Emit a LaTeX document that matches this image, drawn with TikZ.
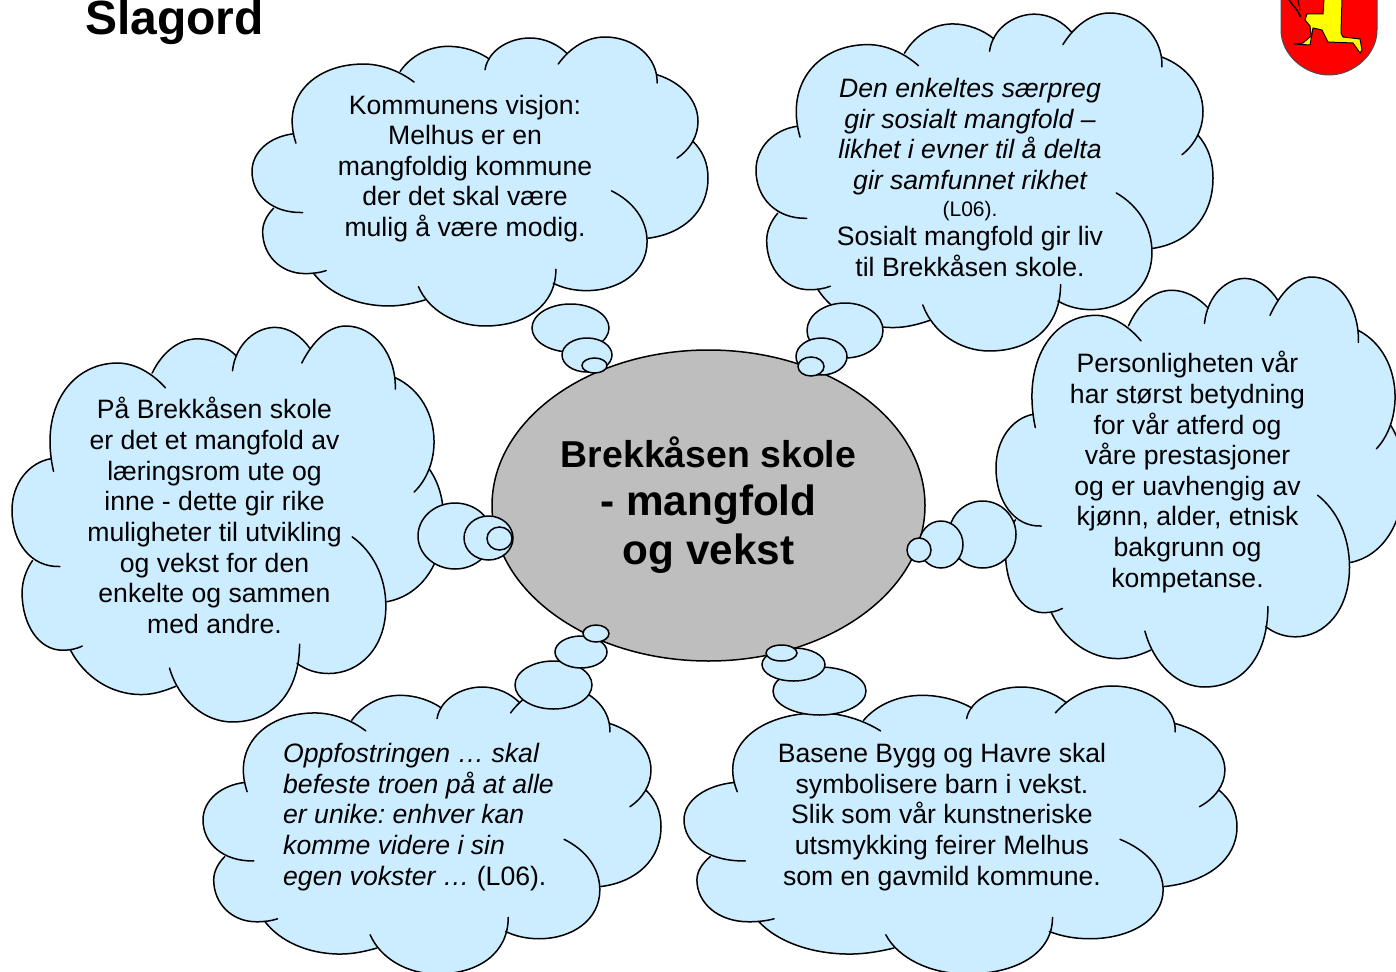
\documentclass[tikz,border=0pt]{standalone}
\usepackage{fontspec}
\setmainfont{Liberation Sans}
\usetikzlibrary{shapes.geometric}
\definecolor{cloudblue}{HTML}{CCECFF}
\definecolor{hubgray}{HTML}{BEBEBE}
\definecolor{shieldred}{HTML}{FF0000}
\definecolor{legyellow}{HTML}{FFFF00}
\tikzset{
  lobeline/.style={draw=black,line width=1.5pt,line cap=round},
  lobefill/.style={fill=cloudblue,draw=cloudblue,line width=.8pt},
  bubble/.style={draw=black,fill=cloudblue,line width=1.5pt},
  bodytext/.style={inner sep=0pt,align=center,text=black,font=\fontsize{26.6}{30.6}\selectfont\frenchspacing},
}
\newcommand{\lobefillcmd}[1]{\path[lobefill] #1;}
\newcommand{\lobestrokecmd}[1]{\path[lobeline] #1;}
\newcommand{\cloudlobes}{%
    \onelobe{(167,340) .. controls (120,200) and (225,103) .. (370,103) .. controls (425,103) and (480,125) .. (522,157)}
    \onelobe{(480,125) .. controls (515,75) and (570,50) .. (625,50) .. controls (670,50) and (715,65) .. (748,88)}
    \onelobe{(735,120) .. controls (745,60) and (810,25) .. (870,25) .. controls (915,25) and (955,45) .. (982,72)}
    \onelobe{(955,103) .. controls (990,55) and (1040,22) .. (1095,22) .. controls (1185,22) and (1255,85) .. (1252,160)}
    \onelobe{(1252,135) .. controls (1330,160) and (1375,215) .. (1375,275) .. controls (1375,320) and (1350,360) .. (1312,385)}
    \onelobe{(1360,335) .. controls (1390,365) and (1405,400) .. (1405,445) .. controls (1405,545) and (1330,612) .. (1225,625)}
    \onelobe{(1115,483) .. controls (1180,515) and (1222,570) .. (1222,635) .. controls (1222,725) and (1140,782) .. (1040,782) .. controls (1005,782) and (970,775) .. (940,760)}
    \onelobe{(948,718) .. controls (948,825) and (860,888) .. (735,888) .. controls (645,888) and (565,840) .. (535,770)}
    \onelobe{(555,810) .. controls (520,820) and (485,828) .. (445,828) .. controls (350,828) and (265,790) .. (220,730)}
    \onelobe{(258,722) .. controls (240,728) and (220,731) .. (195,731) .. controls (120,731) and (67,675) .. (67,605) .. controls (67,580) and (80,555) .. (100,535)}
    \onelobe{(187,548) .. controls (95,550) and (35,495) .. (35,425) .. controls (35,365) and (90,320) .. (160,312)}
}
\newcommand{\thoughtcloud}[4]{%
  \begin{scope}[shift={(#1,#2)},xscale=#3/1370,yscale=#4/866,shift={(-35,-22)}]
    \path[lobefill] (160,312)--(480,125)--(745,90)--(980,70)--(1252,135)--(1360,335)--(1225,625)--(940,760)--(555,810)--(220,730)--(100,535)--cycle;
    \let\onelobe\lobefillcmd\cloudlobes
    \let\onelobe\lobestrokecmd\cloudlobes
  \end{scope}}
\newcommand{\thought}[4]{\path[bubble] (#1,#2) ellipse (#3 and #4);}
\begin{document}
\begin{tikzpicture}[x=1pt,y=-1pt]
  \useasboundingbox (0,0) rectangle (1396,971);
  \clip (0,0) rectangle (1396,971);
  \fill[white] (0,0) rectangle (1396,971);

  % shield
  \filldraw[fill=shieldred,draw=black!70,line width=1pt] (1281,-5) -- (1281,30) .. controls (1281,55) and (1305,75) .. (1329,75) .. controls (1353,75) and (1377,55) .. (1377,30) -- (1377,-5) -- cycle;
  \filldraw[fill=legyellow,draw=black,line width=1pt] (1324,-2) -- (1323,14) -- (1307,14) -- (1305,20) -- (1310,26) -- (1311,36) -- (1303,43) -- (1294,44) -- (1310,45) -- (1313,28) -- (1322,30) -- (1328,42) -- (1353,43) -- (1360,53) -- (1362,50) -- (1360,39) -- (1343,37) -- (1341,33) -- (1342,-2) -- cycle;
  \draw[black,line width=1.5pt] (1289,0) .. controls (1293,6) and (1298,10) .. (1300,16);
  \draw[black,line width=1pt] (1298,0) -- (1300,10);
  \fill[black] (1300,16) circle (1.5);

  \node[inner sep=0pt,anchor=base west,font=\fontsize{48}{50}\selectfont\bfseries] (title) at (85,35) {Slagord};

  \thoughtcloud{252}{37}{456}{289}
  \thoughtcloud{756}{13}{457}{338}
  \thoughtcloud{996}{277}{408}{410}
  \thoughtcloud{12}{326}{431.5}{396}
  \thoughtcloud{203}{686}{458}{288}
  \thoughtcloud{684}{686}{553}{288}

  \node[ellipse,draw=black,fill=hubgray,line width=1.5pt,minimum width=433pt,minimum height=311pt,inner sep=0pt,align=center,font=\fontsize{42.3}{48}\selectfont\bfseries] (hub) at (708.5,505.5) {};
  \node[inner sep=0pt,align=center,font=\fontsize{42.3}{48.2}\selectfont\bfseries] (hubtext) at (708.5,505) {{\fontsize{37.4}{48.2}\selectfont Brekkåsen skole}\\- mangfold\\og vekst};

  \thought{570.5}{328}{38.5}{24}\thought{587}{355}{25}{17}\thought{594.5}{365.5}{12.5}{7.5}
  \thought{845}{330.5}{38}{27.5}\thought{821.5}{356.5}{25.5}{18.5}\thought{811}{366.5}{13}{9.5}
  \thought{982.5}{534.5}{33.5}{33.5}\thought{941}{544.5}{22}{23.5}\thought{919}{550}{12}{12}
  \thought{455}{536}{37}{33}\thought{488.5}{538}{24.5}{22}\thought{499.5}{538.5}{12.5}{11.5}
  \thought{553.5}{685}{38.5}{24}\thought{581}{652}{26}{16}\thought{596}{633.5}{13}{8.5}
  \thought{819.5}{691}{46.5}{24}\thought{793.5}{664.5}{31.5}{16.5}\thought{781.5}{653}{15.5}{8}

  \node[bodytext] (visjon) at (465,168.5) {Kommunens visjon:\\Melhus er en\\mangfoldig kommune\\der det skal være\\mulig å være modig.};
  \node[bodytext] (saerpreg) at (970,177.2) {\itshape Den enkeltes særpreg\\\itshape gir sosialt mangfold –\\\itshape likhet i evner til å delta\\\itshape gir samfunnet rikhet\\[-3pt]{\fontsize{21}{24}\selectfont (L06).}\\[-2pt]Sosialt mangfold gir liv\\til Brekkåsen skole.};
  \node[bodytext] (person) at (1187.5,472) {Personligheten vår\\har størst betydning\\for vår atferd og\\våre prestasjoner\\og er uavhengig av\\kjønn, alder, etnisk\\bakgrunn og\\kompetanse.};
  \node[bodytext] (laering) at (214.5,515.5) {På Brekkåsen skole\\er det et mangfold av\\læringsrom ute og\\inne - dette gir rike\\muligheter til utvikling\\og vekst for den\\enkelte og sammen\\med andre.};
  \node[bodytext,align=left,anchor=west] (oppfostring) at (283,817) {\itshape Oppfostringen … skal\\\itshape befeste troen på at alle\\\itshape er unike: enhver kan\\\itshape komme videre i sin\\\itshape egen vokster …{\upshape\ (L06).}};
  \node[bodytext] (basene) at (942,817) {Basene Bygg og Havre skal\\symbolisere barn i vekst.\\Slik som vår kunstneriske\\utsmykking feirer Melhus\\som en gavmild kommune.};
\end{tikzpicture}
\end{document}
